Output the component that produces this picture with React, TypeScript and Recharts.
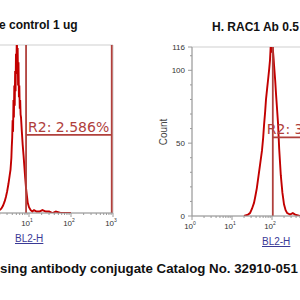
import React from "react";
import { LineChart, Line, XAxis, YAxis, ReferenceLine, ReferenceArea } from "recharts";

// BL2-H positions are log10 values, counts are events per bin
const leftLog = [0.0, 0.1, 0.2, 0.26, 0.3, 0.34, 0.38, 0.42, 0.45, 0.48, 0.51, 0.54, 0.56, 0.58, 0.59, 0.6, 0.61, 0.62, 0.63, 0.64, 0.65, 0.66, 0.67, 0.68, 0.69, 0.7, 0.71, 0.72, 0.73, 0.74, 0.75, 0.76, 0.77, 0.78, 0.79, 0.8, 0.81, 0.83, 0.85, 0.87, 0.89, 0.91, 0.93, 0.95, 0.97, 1.0, 1.04, 1.08, 1.12, 1.18, 1.25, 1.32, 1.4, 1.48, 1.56, 1.64, 1.75, 2.0];
const leftCount = [0, 0, 1, 1, 2, 3, 5, 8, 11, 15, 20, 26, 30, 38, 46, 52, 64, 56, 78, 66, 88, 74, 98, 84, 110, 96, 125, 102, 114, 88, 104, 80, 88, 72, 78, 68, 66, 56, 47, 40, 32, 24, 17, 12, 7, 4, 2, 1, 2, 1, 1, 2, 1, 1, 0, 1, 0, 0];

const rightLog = [1.3, 1.4, 1.45, 1.5, 1.55, 1.58, 1.62, 1.65, 1.7, 1.75, 1.78, 1.8, 1.83, 1.85, 1.88, 1.9, 1.93, 1.95, 1.97, 1.98, 2.0, 2.02, 2.04, 2.05, 2.08, 2.1, 2.12, 2.15, 2.18, 2.22, 2.26, 2.3, 2.34, 2.38, 2.45, 2.52, 2.58, 2.7];
const rightCount = [0, 1, 2, 5, 9, 13, 19, 25, 35, 45, 54, 62, 72, 80, 88, 93, 101, 107, 118, 112, 130, 115, 108, 104, 93, 84, 76, 64, 46, 28, 16, 8, 4, 2, 1, 2, 1, 0];

const decades = [0, 1, 2, 3];
const minorSteps = [2, 3, 4, 5, 6, 7, 8, 9];
const countTicks = [0, 10, 20, 30, 40, 50, 60, 70, 80, 90, 100, 110, 116];
const countLabels = [0, 50, 100, 116];

const leftTitle = "e control 1 ug";
const rightTitle = "H. RAC1 Ab 0.5";
const caption = "sing antibody conjugate Catalog No. 32910-051";
const leftGate = { from: 0.93, to: 2.97, level: 54, text: "R2: 2.586%" };
const rightGate = { from: 2.02, to: 3.2, level: 54, text: "R2: 3" };

const leftData = leftLog.map((x, i) => ({ x, count: leftCount[i] }));
const rightData = rightLog.map((x, i) => ({ x, count: rightCount[i] }));

const logTicks: number[] = [];
decades.forEach((d) => {
  logTicks.push(d);
  if (d < 3) minorSteps.forEach((k) => logTicks.push(d + Math.log10(k)));
});

const histColor = "#c20000";
const gateColor = "#b0403c";
const axisColor = "#9a9a9a";

const LogTick = (props: any) => {
  const { x, y, payload, firstLabel, lastLabel } = props;
  const major = Number.isInteger(payload.value);
  const show = major && payload.value >= firstLabel && payload.value <= lastLabel;
  return (
    <g>
      <line x1={x} y1={y} x2={x} y2={y + (major ? 4 : 2)} stroke={axisColor} />
      {show && (
        <text x={x - 2} y={y + 13} textAnchor="middle" fontSize={8} fill="#333" fontFamily="Arial">
          10
          <tspan fontSize={5} dy={-4}>
            {payload.value}
          </tspan>
        </text>
      )}
    </g>
  );
};

const CountTick = (props: any) => {
  const { x, y, payload } = props;
  const labeled = countLabels.includes(payload.value);
  return (
    <g>
      <line x1={x} y1={y} x2={x - (labeled ? 4 : 2)} y2={y} stroke={axisColor} />
      {labeled && (
        <text x={x - 7} y={y + 3} textAnchor="end" fontSize={8} fill="#333" fontFamily="Arial">
          {payload.value}
        </text>
      )}
    </g>
  );
};

const gateLabel = (text: string, dx: number) => (p: any) =>
  (
    <text
      x={p.viewBox.x + dx}
      y={p.viewBox.y - 3}
      fill={gateColor}
      fontSize={14}
      fontFamily="DejaVu Sans"
    >
      {text}
    </text>
  );

const Histogram = ({ data, gate, showY, labelDx, firstLabel, lastLabel, width, height, margin }: any) => (
  <LineChart width={width} height={height} data={data} margin={margin}>
    <ReferenceArea x1={0} x2={3} y1={0} y2={116} fill="none" stroke="#cfcfcf" ifOverflow="visible" />
    <XAxis
      dataKey="x"
      type="number"
      domain={[0, 3]}
      allowDataOverflow
      ticks={logTicks}
      interval={0}
      tickSize={0}
      tickMargin={0}
      tick={<LogTick firstLabel={firstLabel} lastLabel={lastLabel} />}
      height={20}
      stroke={axisColor}
    />
    <YAxis
      hide={!showY}
      type="number"
      domain={[0, 116]}
      allowDataOverflow
      ticks={countTicks}
      interval={0}
      tickSize={0}
      tickMargin={0}
      tick={<CountTick />}
      width={40}
      stroke={axisColor}
    />
    <Line
      dataKey="count"
      type="linear"
      stroke={histColor}
      strokeWidth={1.9}
      dot={false}
      isAnimationActive={false}
    />
    <ReferenceLine x={gate.from} stroke={gateColor} strokeWidth={1.8} ifOverflow="hidden" />
    <ReferenceLine x={gate.to} stroke={gateColor} strokeWidth={1.8} ifOverflow="hidden" />
    <ReferenceLine
      segment={[
        { x: gate.from, y: gate.level },
        { x: Math.min(gate.to, 3), y: gate.level },
      ]}
      stroke={gateColor}
      strokeWidth={1.8}
      label={gateLabel(gate.text, labelDx)}
    />
  </LineChart>
);

const abs = (left: number, top: number): React.CSSProperties => ({ position: "absolute", left, top });

export default function App() {
  return (
    <div
      style={{
        position: "absolute",
        left: 0,
        top: 0,
        width: 300,
        height: 300,
        overflow: "hidden",
        background: "#fff",
        fontFamily: "Arial, 'Liberation Sans', sans-serif",
      }}
    >
      <div style={abs(-18, 40)}>
        <Histogram
          data={leftData}
          gate={leftGate}
          showY={false}
          labelDx={2}
          firstLabel={1}
          lastLabel={3}
          width={136}
          height={193}
          margin={{ top: 5, right: 5, bottom: 0, left: 5 }}
        />
      </div>
      <div style={abs(152, 42)}>
        <Histogram
          data={rightData}
          gate={rightGate}
          showY={true}
          labelDx={-6}
          firstLabel={0}
          lastLabel={2}
          width={165}
          height={194}
          margin={{ top: 5, right: 5, bottom: 0, left: 0 }}
        />
      </div>
      <div style={{ ...abs(-1, 18), fontSize: 12, fontWeight: "bold", color: "#111", whiteSpace: "nowrap" }}>
        {leftTitle}
      </div>
      <div style={{ ...abs(212, 20), fontSize: 12, fontWeight: "bold", color: "#111", whiteSpace: "nowrap" }}>
        {rightTitle}
      </div>
      <div
        style={{
          ...abs(163, 132),
          fontSize: 10,
          color: "#444",
          transform: "translate(-50%, -50%) rotate(-90deg)",
          whiteSpace: "nowrap",
        }}
      >
        Count
      </div>
      <div style={{ ...abs(15, 233), fontSize: 10, color: "#3a3a96", textDecoration: "underline" }}>BL2-H</div>
      <div style={{ ...abs(262, 236), fontSize: 10, color: "#3a3a96", textDecoration: "underline" }}>BL2-H</div>
      <div style={{ ...abs(0, 261), fontSize: 13.3, fontWeight: "bold", color: "#111", whiteSpace: "nowrap" }}>
        {caption}
      </div>
    </div>
  );
}
